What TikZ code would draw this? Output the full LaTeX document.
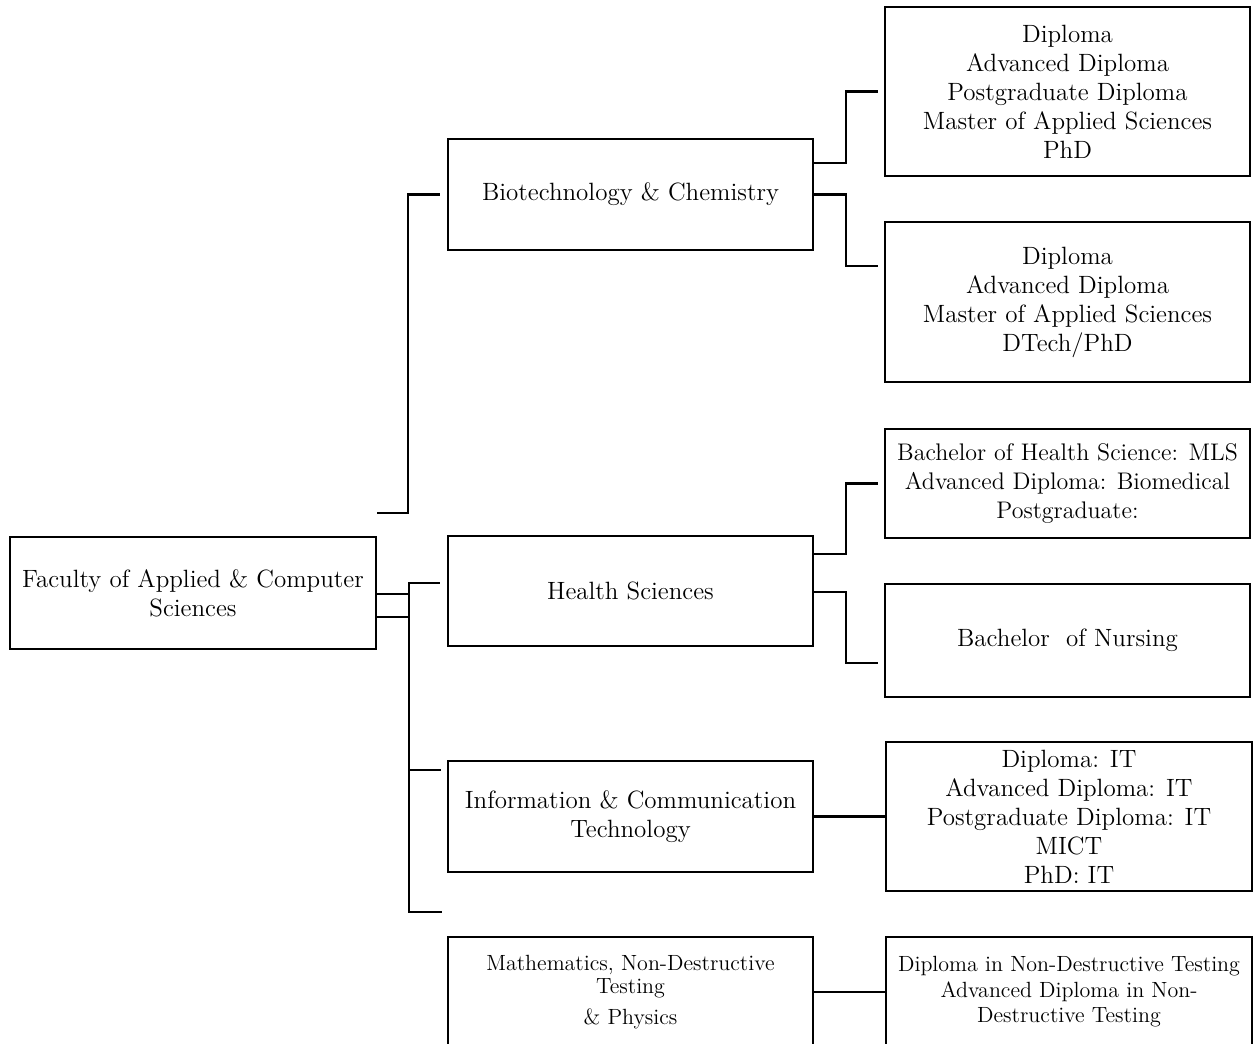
\documentclass[tikz,border=0pt]{standalone}
\usepackage{amsmath}
\usepackage{tikz}
\usetikzlibrary{positioning}

\tikzset{
  unitbox/.style={draw, line width=1.3pt, align=center, inner sep=2pt,
        minimum width=182.5pt, font=\fontsize{12.5}{14.5}\selectfont},
  smallbox/.style={unitbox, font=\fontsize{11}{12.75}\selectfont},
  link/.style={line width=1.1pt}
}

\begin{document}
\begin{tikzpicture}[x=0.5pt, y=-0.5pt]
  \useasboundingbox (0,0) rectangle (1253,1044);
  \clip (0,0) rectangle (1253,1044);

  % faculty and departments
  \node[unitbox, minimum width=183pt, minimum height=56pt] (fac) at (193,593)
       {Faculty of Applied \& Computer\\ Sciences};
  \node[unitbox, minimum height=55.5pt] (bio) at (630.5,194.5) {Biotechnology \& Chemistry};
  \node[unitbox, minimum height=55pt] (hea) at (630.5,591) {Health Sciences};
  \node[unitbox, minimum height=55.5pt] (ict) at (630.5,816.5)
       {Information \& Communication\\ Technology};
  \node[smallbox, minimum height=55pt, font=\fontsize{11}{11.5}\selectfont] (mat) at (630.5,992)
       {Mathematics, Non-Destructive\\ Testing\\[4pt] \& Physics};

  % qualifications
  \node[unitbox, minimum height=84.5pt] (bioA) at (1067.5,91.5)
       {Diploma\\ Advanced Diploma\\ Postgraduate Diploma\\ Master of Applied Sciences\\ PhD};
  \node[unitbox, minimum height=80pt] (bioB) at (1067.5,302)
       {Diploma\\ Advanced Diploma\\ Master of Applied Sciences\\ DTech/PhD};
  \node[unitbox, minimum height=54.5pt, font=\fontsize{12}{14.5}\selectfont] (heaA) at (1067.5,483.5)
       {Bachelor of Health Science: MLS\\ Advanced Diploma: Biomedical\\ Postgraduate:};
  \node[unitbox, minimum height=56.5pt] (heaB) at (1067.5,640.5) {Bachelor\ \ of Nursing};
  \node[unitbox, minimum width=183pt, minimum height=74.5pt] (ictA) at (1069,816.5)
       {Diploma: IT\\ Advanced Diploma: IT\\ Postgraduate Diploma: IT\\ MICT\\ PhD: IT};
  \node[smallbox, minimum width=183pt, minimum height=55pt] (ndt) at (1069,992)
       {Diploma in Non-Destructive Testing\\ Advanced Diploma in Non-\\ Destructive Testing};

  % trunk on the left
  \coordinate (trunkEnd) at (409,912);
  \draw[link] ([yshift=11.5pt]fac.north east) -| ([xshift=-19.5pt]bio.west) -- ([xshift=-3.5pt]bio.west);
  \draw[link] ([yshift=-0.5pt]fac.east) -- ++(33,0);
  \draw[link] ([yshift=-12pt]fac.east) -- ++(33,0);
  \draw[link] ([shift={(-3.5pt,4pt)}]hea.west) -| (trunkEnd) -- ++(33,0);
  \draw[link] ([shift={(-3pt,-5pt)}]ict.north west) -- ++(-33,0);

  % branches on the right
  \draw[link] ([yshift=15.75pt]bio.east) -- ++(32,0) |- ([xshift=-3pt]bioA.west);
  \draw[link] (bio.east) -- ++(32,0) |- ([shift={(-3pt,18pt)}]bioB.west);
  \draw[link] ([yshift=18.5pt]hea.east) -- ++(32,0) |- ([xshift=-3pt]heaA.west);
  \draw[link] ([yshift=-0.5pt]hea.east) -- ++(32,0) |- ([shift={(-3pt,-11.25pt)}]heaB.west);
  \draw[link] (ict.east) -- (ictA.west);
  \draw[link] (mat.east) -- (ndt.west);
\end{tikzpicture}
\end{document}
